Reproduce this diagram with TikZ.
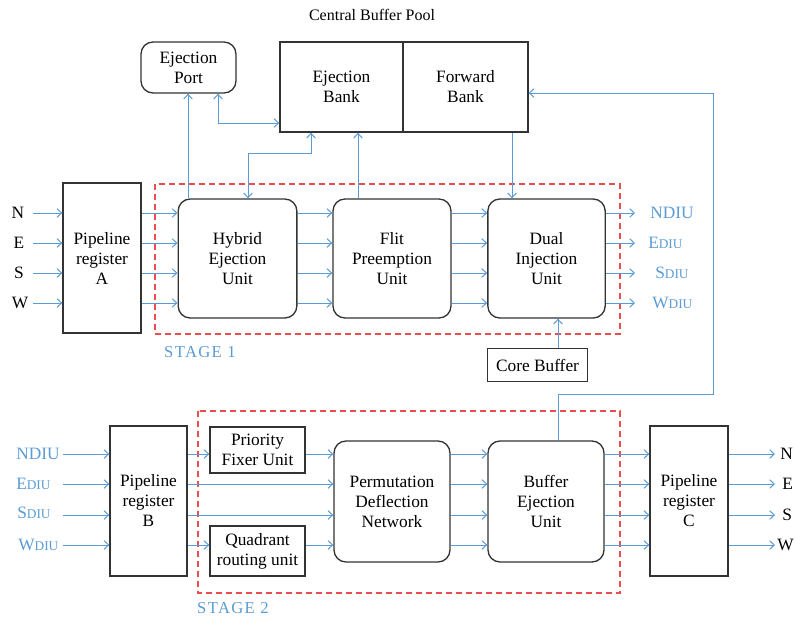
\documentclass[tikz,border=0pt]{standalone}
\usepackage{fontspec}
\setmainfont{Liberation Serif}
\usetikzlibrary{arrows.meta}
\definecolor{lblue}{RGB}{91,155,213}
\definecolor{dred}{RGB}{232,78,78}
\begin{document}
\begin{tikzpicture}[x=0.75pt,y=-0.75pt,
  txt/.style={font=\fontsize{13}{15}\selectfont, align=center, inner sep=0pt},
  sqbox/.style={txt, draw=black!80, line width=1pt, fill=white},
  rbox/.style={sqbox, rounded corners=9pt},
  arr/.style={draw=lblue, line width=0.75pt, -{Straight Barb[length=3.5pt,width=6.5pt]}},
  arrb/.style={draw=lblue, line width=0.75pt, {Straight Barb[length=3.5pt,width=6.5pt]}-{Straight Barb[length=3.5pt,width=6.5pt]}},
  ln/.style={draw=lblue, line width=0.75pt},
  stagebox/.style={draw=dred, line width=1.1pt, dash pattern=on 4.5pt off 3pt},
  blab/.style={text=lblue, inner sep=0pt, anchor=west, font=\fontsize{13}{15}\selectfont},
  klab/.style={inner sep=0pt, font=\fontsize{13}{15}\selectfont},
  stlab/.style={text=lblue, inner sep=0pt, font=\fontsize{12.5}{15}\selectfont\addfontfeatures{LetterSpace=8}}
]
\useasboundingbox (0,0) rectangle (795,618);

% ---------- Stage 1 ----------
\draw[stagebox] (155,184) rectangle (620,334);
\node[stlab] (st1) at (200,352) {STAGE 1};

\node[txt, font=\fontsize{12}{14}\selectfont] (cbp) at (372,15) {Central Buffer Pool};
\node[rbox, minimum width=71.25pt, minimum height=38.25pt] (EP) at (188.5,67.5) {Ejection\\Port};
\node[sqbox, minimum width=92.25pt, minimum height=67.5pt] (EB) at (341.5,87) {Ejection\\Bank};
\node[sqbox, minimum width=93.75pt, minimum height=67.5pt] (FB) at (465.5,87) {Forward\\Bank};

\node[sqbox, minimum width=58.5pt, minimum height=112.5pt] (A) at (102,258) {Pipeline\\register\\A};
\node[rbox, minimum width=89pt, minimum height=89.25pt] (HEU) at (237.5,258.5) {Hybrid\\Ejection\\Unit};
\node[rbox, minimum width=88.5pt, minimum height=89.25pt] (FPU) at (392,258.5) {Flit\\Preemption\\Unit};
\node[rbox, minimum width=88pt, minimum height=89.25pt] (DIU) at (546.5,258.5) {Dual\\Injection\\Unit};
\node[sqbox, minimum width=75pt, minimum height=24.75pt] (CB) at (537.5,365) {Core Buffer};

\coordinate (r1) at (0,213);
\coordinate (r2) at (0,243);
\coordinate (r3) at (0,273);
\coordinate (r4) at (0,303);
\coordinate (in1) at (33,0);
\coordinate (out1) at (635,0);

\node[klab] (lN) at (18,213) {N};
\node[klab] (lE) at (19,243) {E};
\node[klab] (lS) at (19,273) {S};
\node[klab] (lW) at (20,303) {W};
\foreach \r in {r1,r2,r3,r4}{
  \draw[arr] (in1 |- \r) -- (A.west |- \r);
  \draw[arr] (A.east |- \r) -- (HEU.west |- \r);
  \draw[arr] (HEU.east |- \r) -- (FPU.west |- \r);
  \draw[arr] (FPU.east |- \r) -- (DIU.west |- \r);
  \draw[arr] (DIU.east |- \r) -- (out1 |- \r);
}
\node[blab] (oN) at (650,213) {NDIU};
\node[blab] (oE) at (648,243) {E{\fontsize{10}{12}\selectfont DIU}};
\node[blab] (oS) at (655,273) {S{\fontsize{10}{12}\selectfont DIU}};
\node[blab] (oW) at (652,303) {W{\fontsize{10}{12}\selectfont DIU}};

% top connectors
\coordinate (cx1) at (188,0);
\coordinate (cx2) at (218,0);
\coordinate (cx3) at (248,0);
\coordinate (cx4) at (311,0);
\coordinate (cx5) at (358,0);
\coordinate (cx6) at (512,0);
\coordinate (cx7) at (558,0);
\coordinate (cx8) at (713,0);
\coordinate (yA) at (0,123);
\coordinate (yB) at (0,153);
\coordinate (yC) at (0,394);
\coordinate (yD) at (0,93);

\draw[arr] (cx1 |- HEU.north) -- (cx1 |- EP.south);
\draw[arrb] (cx2 |- EP.south) |- (EB.west |- yA);
\draw[arrb] (cx3 |- HEU.north) |- (cx4 |- yB) -- (cx4 |- EB.south);
\draw[arr] (cx5 |- FPU.north) -- (cx5 |- EB.south);
\draw[arr] (cx6 |- FB.south) -- (cx6 |- DIU.north);
\draw[arr] (cx7 |- CB.north) -- (cx7 |- DIU.south);

% ---------- Stage 2 ----------
\draw[stagebox] (198,411) rectangle (620,593);
\node[stlab] (st2) at (233,608) {STAGE 2};

\node[sqbox, minimum width=57.75pt, minimum height=112.5pt] (B) at (148.5,501) {Pipeline\\register\\B};
\node[sqbox, minimum width=71.25pt, minimum height=34.5pt] (PF) at (257.5,450) {Priority\\Fixer Unit};
\node[sqbox, minimum width=71.25pt, minimum height=37.5pt] (QR) at (257.5,551) {Quadrant\\routing unit};
\node[rbox, minimum width=87pt, minimum height=90.75pt] (PDN) at (392,501.5) {Permutation\\Deflection\\Network};
\node[rbox, minimum width=87pt, minimum height=90.75pt] (BEU) at (546,501.5) {Buffer\\Ejection\\Unit};
\node[sqbox, minimum width=58.5pt, minimum height=112.5pt] (C) at (689,501) {Pipeline\\register\\C};

\coordinate (s1) at (0,454);
\coordinate (s2) at (0,484);
\coordinate (s3) at (0,515);
\coordinate (s4) at (0,545);
\coordinate (in2) at (63,0);
\coordinate (out2) at (775,0);

\node[blab] (iN) at (16,454) {NDIU};
\node[blab] (iE) at (16,484) {E{\fontsize{10}{12}\selectfont DIU}};
\node[blab] (iS) at (17,513) {S{\fontsize{10}{12}\selectfont DIU}};
\node[blab] (iW) at (18,545) {W{\fontsize{10}{12}\selectfont DIU}};

\foreach \r in {s1,s2,s3,s4}{
  \draw[arr] (in2 |- \r) -- (B.west |- \r);
  \draw[arr] (PDN.east |- \r) -- (BEU.west |- \r);
  \draw[arr] (BEU.east |- \r) -- (C.west |- \r);
  \draw[arr] (C.east |- \r) -- (out2 |- \r);
}
\draw[arr] (B.east |- s1) -- (PF.west |- s1);
\draw[arr] (PF.east |- s1) -- (PDN.west |- s1);
\draw[arr] (B.east |- s2) -- (PDN.west |- s2);
\draw[arr] (B.east |- s3) -- (PDN.west |- s3);
\draw[arr] (B.east |- s4) -- (QR.west |- s4);
\draw[arr] (QR.east |- s4) -- (PDN.west |- s4);

\node[klab, anchor=west] (qN) at (780,454) {N};
\node[klab, anchor=west] (qE) at (782,484) {E};
\node[klab, anchor=west] (qS) at (782,515) {S};
\node[klab, anchor=west] (qW) at (777,545) {W};

% feedback to forward bank
\draw[arr] (cx7 |- BEU.north) -- (cx7 |- yC) -- (cx8 |- yC) |- (FB.east |- yD);
\end{tikzpicture}
\end{document}
